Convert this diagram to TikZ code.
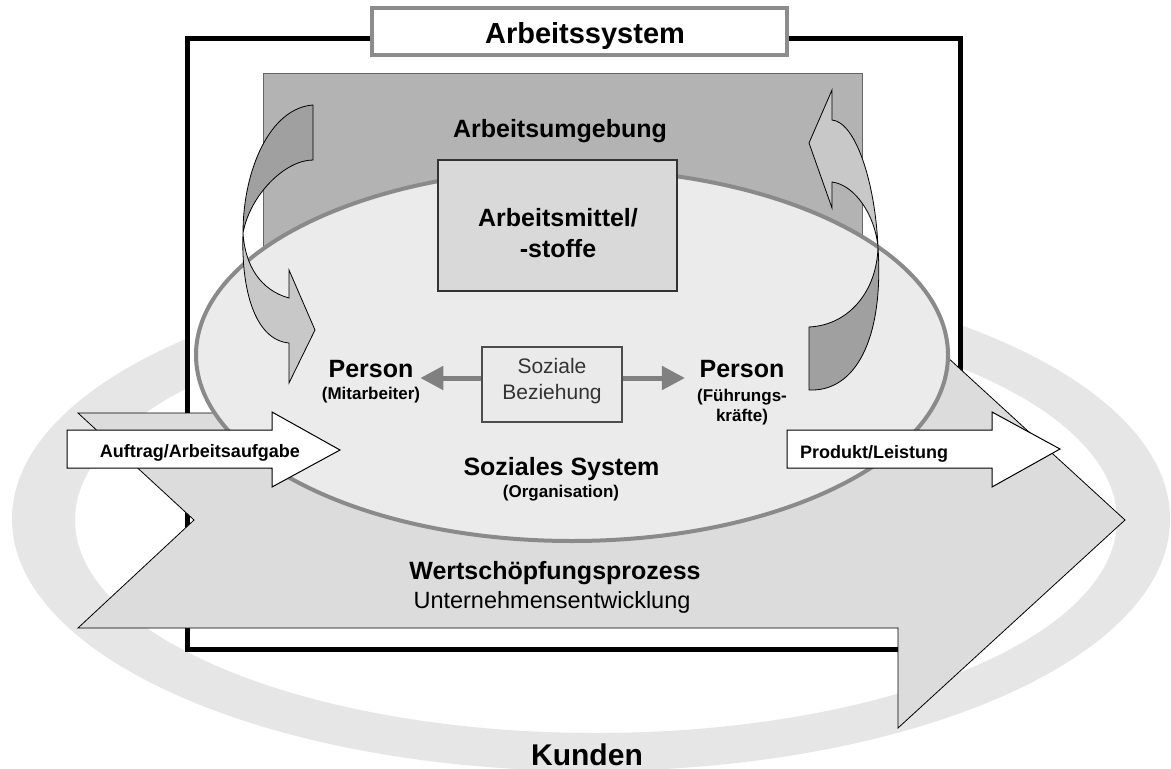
\documentclass[tikz,border=0pt]{standalone}
\usepackage{fontspec}
\setmainfont{Liberation Sans}
\usetikzlibrary{arrows.meta}
\definecolor{ringgray}{HTML}{E6E6E6}
\definecolor{umggray}{HTML}{B3B3B3}
\definecolor{ellgray}{HTML}{EBEBEB}
\definecolor{ellline}{HTML}{8A8A8A}
\definecolor{amgray}{HTML}{D9D9D9}
\definecolor{sozgray}{HTML}{EAEAEA}
\definecolor{arrgray}{HTML}{DCDCDC}
\definecolor{darkband}{HTML}{A0A0A0}
\definecolor{lightband}{HTML}{C8C8C8}
\definecolor{relgray}{HTML}{808080}
\definecolor{boxline}{HTML}{8C8C8C}
\newcommand{\fsz}[1]{\fontsize{#1}{#1}\selectfont}
\begin{document}
\begin{tikzpicture}[x=1pt,y=-1pt,
  lbl/.style={inner sep=0pt, anchor=base},
  thinout/.style={draw=black, line width=0.8pt, line join=miter},
  bigarr/.style={thinout, fill=arrgray},
  whitearr/.style={draw=black, line width=1pt, fill=white},
  dark/.style={thinout, fill=darkband},
  light/.style={thinout, fill=lightband},
  relarr/.style={draw=relgray, line width=5pt, -{Triangle[length=23pt,width=23pt]}},
]
\useasboundingbox (0,0) rectangle (1171,769);
\fill[white] (0,0) rectangle (1171,769);
% Kunden ring
\fill[ringgray, even odd rule] (591,519) ellipse [x radius=579, y radius=252]
  (596,520) ellipse [x radius=521, y radius=213];
% Arbeitssystem frame
\draw[line width=5pt, fill=white] (187,38) rectangle (960,649);
% Arbeitsumgebung
\draw[draw=black!60, line width=0.8pt, fill=umggray] (263,73) rectangle (862,300);
% Wertschoepfungsprozess arrow
\draw[bigarr] (78,413) -- (898,413) -- (898,312) -- (1125,520) -- (898,728)
  -- (898,628) -- (78,628) -- (194,520) -- cycle;
% Soziales System ellipse
\draw[fill=ellgray, draw=ellline, line width=4pt] (572,355) ellipse [x radius=376, y radius=186];
% Arbeitsmittel box
\node[draw=black!80, line width=1.5pt, fill=amgray, minimum width=239pt, minimum height=131pt, inner sep=0pt] (am) at (557.5,225.5) {};
% curved arrow left
\draw[dark] (313,105) -- (313,160) .. controls (285,160) and (250,195) .. (243,233)
  .. controls (243,170) and (270,108) .. (313,105) -- cycle;
\draw[light] (243,233) .. controls (241,290) and (255,340) .. (289,343)
  -- (289,383) -- (315,330) -- (289,270) -- (289,298)
  .. controls (260,290) and (245,265) .. (243,233) -- cycle;
% curved arrow right
\draw[light] (832,120) -- (832,90) -- (809,143) -- (832,208) -- (832,182)
  .. controls (855,185) and (875,215) .. (878,247)
  .. controls (875,180) and (855,122) .. (832,120) -- cycle;
\draw[dark] (878,247) .. controls (884,340) and (855,392) .. (809,390)
  -- (809,327) .. controls (850,325) and (877,290) .. (878,247) -- cycle;
% Soziale Beziehung box
\node[draw=black!70, line width=1.2pt, fill=sozgray, minimum width=140pt, minimum height=75pt, inner sep=0pt] (soz) at (552,384.5) {};
% Arbeitssystem label box
\node[draw=boxline, line width=3.5pt, fill=white, minimum width=415pt, minimum height=47pt, inner sep=0pt] (sysbox) at (579.5,31.5) {};
% texts
\node[lbl, font=\fsz{29}\bfseries] (tsys) at (585,43) {Arbeitssystem};
\node[lbl, font=\fsz{25}\bfseries] (tumg) at (560,137) {Arbeitsumgebung};
\node[lbl, font=\fsz{25}\bfseries] (am1) at (558,226) {Arbeitsmittel/};
\node[lbl, font=\fsz{25}\bfseries] (am2) at (558,257) {-stoffe};
\node[lbl, font=\fsz{21}, text=black!80] (sz1) at (552,373.5) {Soziale};
\node[lbl, font=\fsz{21}, text=black!80] (sz2) at (552,399.5) {Beziehung};
\node[lbl, font=\fsz{25}\bfseries] (pm) at (371,377) {Person};
\node[lbl, font=\fsz{17}\bfseries] (pmsub) at (371,399) {(Mitarbeiter)};
\node[lbl, font=\fsz{25}\bfseries] (pk) at (742,377) {Person};
\node[lbl, font=\fsz{17}\bfseries] (pksub1) at (742,401) {(Führungs-};
\node[lbl, font=\fsz{17}\bfseries] (pksub2) at (742,421) {kräfte)};
\node[lbl, font=\fsz{25}\bfseries] (sozsys) at (561.5,475.5) {Soziales System};
\node[lbl, font=\fsz{17}\bfseries] (org) at (561,497) {(Organisation)};
\node[lbl, font=\fsz{25}\bfseries] (wsp) at (555,579) {Wertschöpfungsprozess};
\node[lbl, font=\fsz{23.5}] (ue) at (552,608) {Unternehmensentwicklung};
\node[lbl, font=\fsz{30}\bfseries] (kunden) at (587,765) {Kunden};
% relation arrows
\draw[relarr] ([yshift=6.5pt]soz.west) -- ([yshift=6.5pt]soz.west -| pmsub.east);
\draw[relarr, shorten >=12pt] ([yshift=6.5pt]soz.east) -- ([yshift=6.5pt]soz.east -| pksub1.west);
% input / output arrows
\draw[whitearr] (67,430) -- (272,430) -- (272,412) -- (340,450) -- (272,487)
  -- (272,468) -- (67,468) -- cycle;
\node[lbl, font=\fsz{18}\bfseries] (auftrag) at (200,457) {Auftrag/Arbeitsaufgabe};
\draw[whitearr] (787,430) -- (992,430) -- (992,412) -- (1060,449) -- (992,487)
  -- (992,468) -- (787,468) -- cycle;
\node[lbl, font=\fsz{18}\bfseries] (produkt) at (874,458) {Produkt/Leistung};
\end{tikzpicture}
\end{document}
